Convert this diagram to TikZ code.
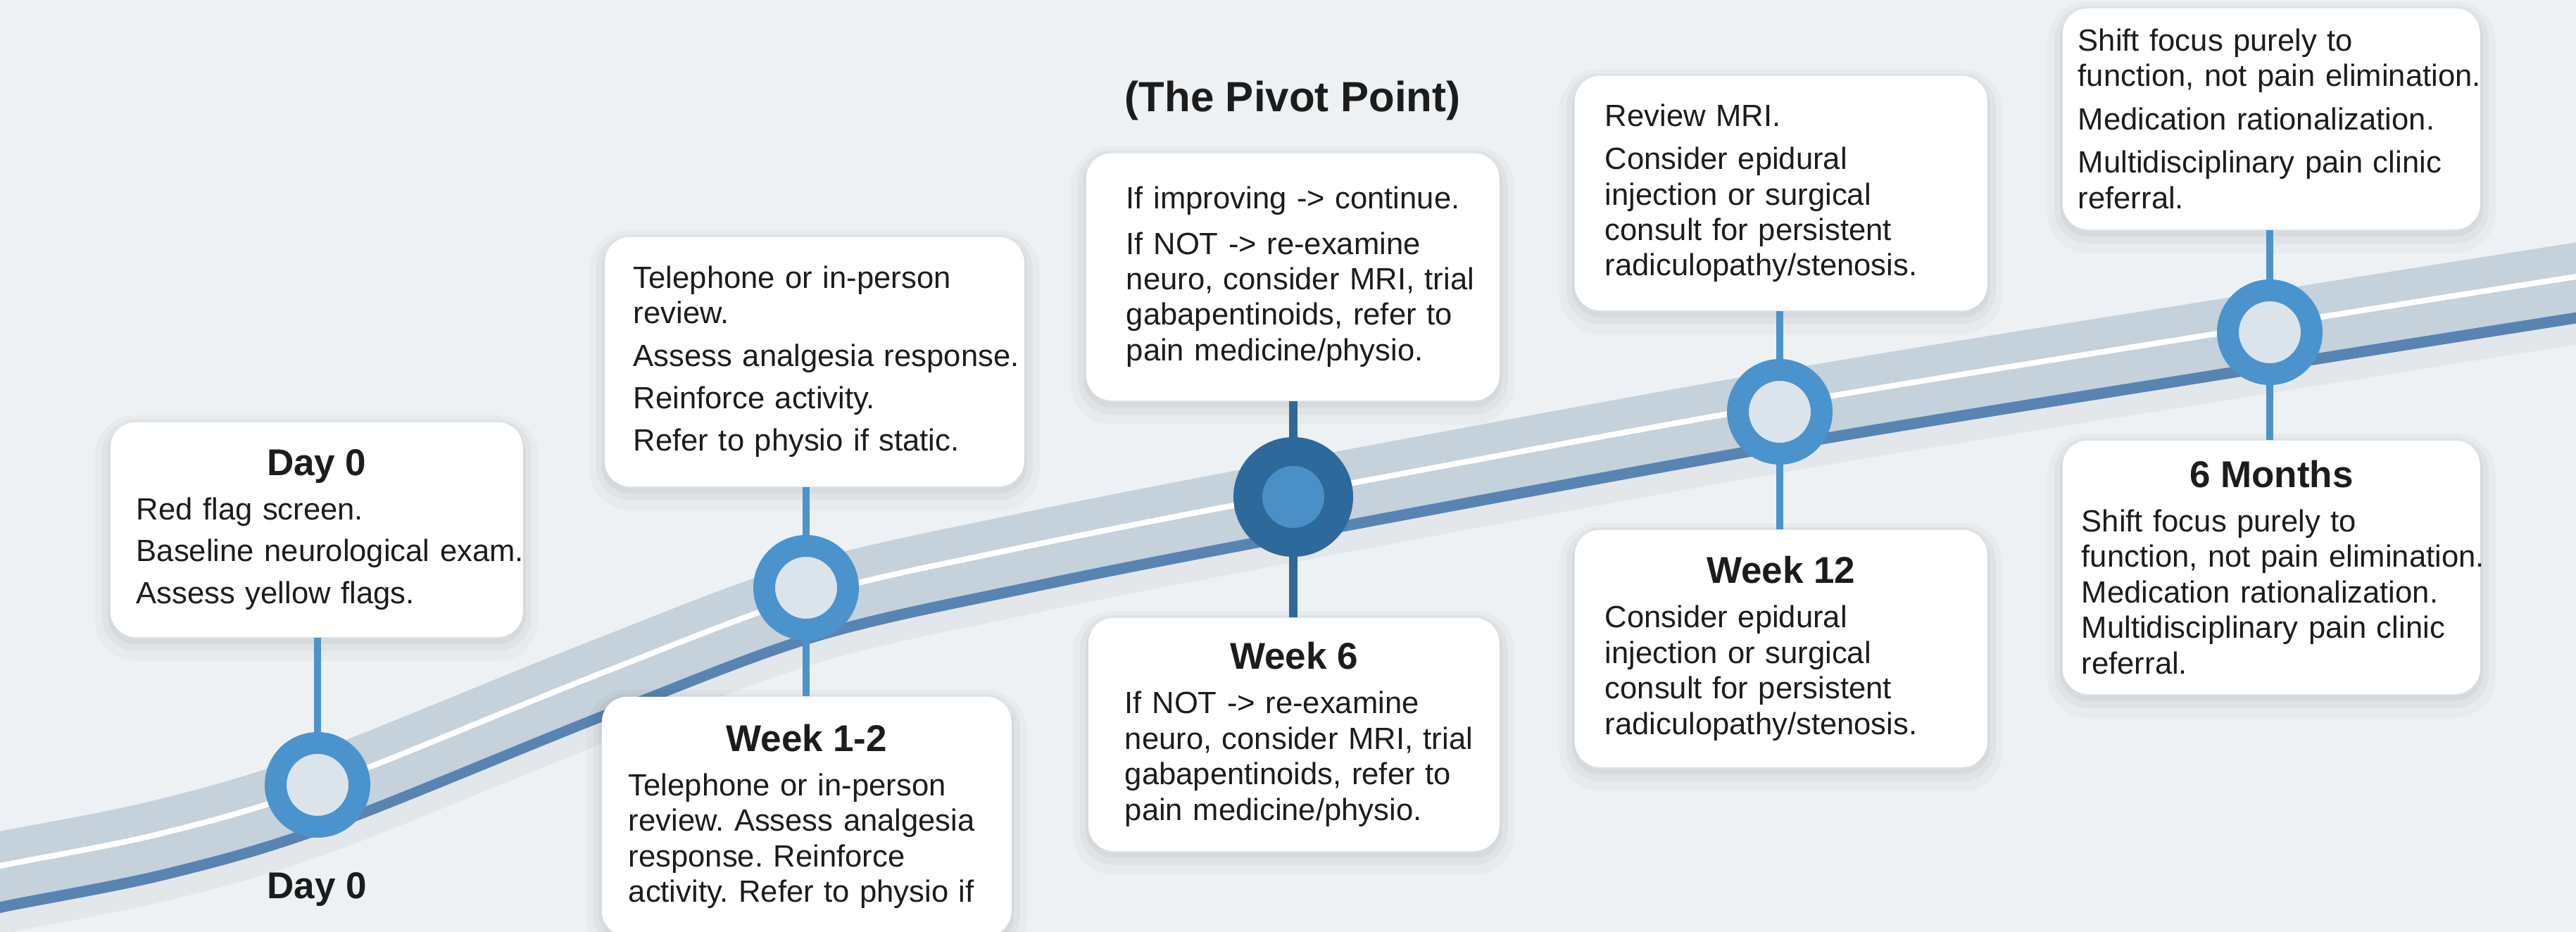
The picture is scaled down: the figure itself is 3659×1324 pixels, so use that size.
\documentclass[tikz,border=0pt]{standalone}
\usepackage{fontspec}
\setmainfont{Liberation Sans}
\usetikzlibrary{shadows}
\definecolor{bg}{HTML}{EDF1F4}
\definecolor{band}{HTML}{C5D1DB}
\definecolor{darkline}{HTML}{5884B2}
\definecolor{ringc}{HTML}{4B93CD}
\definecolor{hole}{HTML}{DCE4EB}
\definecolor{pivotdark}{HTML}{2D699B}
\definecolor{pivotlight}{HTML}{4A8FC6}
\definecolor{txt}{HTML}{1C1C1C}
\frenchspacing
\newcommand\cardtitle[1]{\makebox[\linewidth][c]{\fontsize{13.25}{15}\selectfont\bfseries #1}}
\tikzset{
  card/.style={rounded corners=9pt, fill=white, inner ysep=0pt, align=left,
    anchor=north west, text=txt, font=\fontsize{10.9}{12.6}\selectfont\frenchspacing,
    general shadow={draw=black, draw opacity=0.025, line width=11pt, shadow yshift=-3pt},
    general shadow={draw=black, draw opacity=0.03, line width=6pt, shadow yshift=-2pt},
    general shadow={draw=black, draw opacity=0.04, line width=2pt, shadow yshift=-1.5pt}},
  ringnode/.style={circle, draw=ringc, line width=7.75pt, fill=hole, minimum size=29.75pt, inner sep=0pt},
  conn/.style={draw=ringc, line width=2.5pt},
  pconn/.style={draw=pivotdark, line width=3pt},
  heading/.style={font=\fontsize{13.25}{15}\selectfont\bfseries, text=txt, inner sep=0pt},
}
\begin{document}
\begin{tikzpicture}[x=0.25pt,y=-0.25pt]
\useasboundingbox (0,0) rectangle (3659,1324);
\clip (0,0) rectangle (3659,1324);
\fill[bg] (0,0) rectangle (3659,1324);

% track
\draw[black, draw opacity=0.04, line width=30pt, transform canvas={yshift=-9pt}] plot[smooth, tension=0.55] coordinates {(-60,1245) (0,1230) (225,1185) (451,1118) (850,958) (1145,848) (1450,778) (1837,702) (2528,575) (3224,462) (3659,393) (3760,378)};
\draw[darkline, line width=24pt, transform canvas={yshift=-4.5pt}] plot[smooth, tension=0.55] coordinates {(-60,1245) (0,1230) (225,1185) (451,1118) (850,958) (1145,848) (1450,778) (1837,702) (2528,575) (3224,462) (3659,393) (3760,378)};
\draw[band, line width=24.5pt, transform canvas={yshift=-0.25pt}] plot[smooth, tension=0.55] coordinates {(-60,1245) (0,1230) (225,1185) (451,1118) (850,958) (1145,848) (1450,778) (1837,702) (2528,575) (3224,462) (3659,393) (3760,378)};
\draw[white, line width=2pt] plot[smooth, tension=0.55] coordinates {(-60,1245) (0,1230) (225,1185) (451,1118) (850,958) (1145,848) (1450,778) (1837,702) (2528,575) (3224,462) (3659,393) (3760,378)};

% milestone positions
\coordinate (p0) at (451,1115);
\coordinate (p1) at (1145,835);
\coordinate (p2) at (1837,706);
\coordinate (p3) at (2528,585);
\coordinate (p4) at (3224,472);

% cards
\node[card, text width=128pt, inner xsep=9.25pt, minimum height=76.25pt] (d0top) at (156,599)
 {\cardtitle{Day 0}\\[3.2pt]\mbox{Red flag screen.}\\[2.3pt]\mbox{Baseline neurological exam.}\\[2.3pt]\mbox{Assess yellow flags.}};

\node[card, text width=128.5pt, inner xsep=10.25pt, minimum height=88.5pt] (w1top) at (858,336)
 {\mbox{Telephone or in-person}\\\mbox{review.}\\[2.5pt]\mbox{Assess analgesia response.}\\[2.5pt]\mbox{Reinforce activity.}\\[2.5pt]\mbox{Refer to physio if static.}};

\node[card, text width=126.5pt, inner xsep=9.5pt, minimum height=85pt] (w1bot) at (854,989)
 {\cardtitle{Week 1-2}\\[3.2pt]\mbox{Telephone or in-person}\\\mbox{review. Assess analgesia}\\\mbox{response. Reinforce}\\\mbox{activity. Refer to physio if}};

\node[card, text width=118.25pt, inner xsep=14.25pt, minimum height=87.75pt] (pvtop) at (1542,217)
 {\mbox{If improving -> continue.}\\[3.5pt]\mbox{If NOT -> re-examine}\\\mbox{neuro, consider MRI, trial}\\\mbox{gabapentinoids, refer to}\\\mbox{pain medicine/physio.}};

\node[card, text width=120pt, inner xsep=13pt, minimum height=82.75pt] (w6bot) at (1545,877)
 {\cardtitle{Week 6}\\[3.2pt]\mbox{If NOT -> re-examine}\\\mbox{neuro, consider MRI, trial}\\\mbox{gabapentinoids, refer to}\\\mbox{pain medicine/physio.}};

\node[card, text width=125pt, inner xsep=10.75pt, minimum height=83.25pt] (k12top) at (2236,107)
 {\mbox{Review MRI.}\\[2.8pt]\mbox{Consider epidural}\\\mbox{injection or surgical}\\\mbox{consult for persistent}\\\mbox{radiculopathy/stenosis.}};

\node[card, text width=125pt, inner xsep=10.75pt, minimum height=84.25pt] (k12bot) at (2236,752)
 {\cardtitle{Week 12}\\[3.2pt]\mbox{Consider epidural}\\\mbox{injection or surgical}\\\mbox{consult for persistent}\\\mbox{radiculopathy/stenosis.}};

\node[card, text width=137.25pt, inner xsep=5.5pt, minimum height=78.5pt] (m6top) at (2929,11)
 {\mbox{Shift focus purely to}\\\mbox{function, not pain elimination.}\\[2.8pt]\mbox{Medication rationalization.}\\[2.8pt]\mbox{Multidisciplinary pain clinic}\\\mbox{referral.}};

\node[card, text width=134.75pt, inner xsep=6.75pt, minimum height=90pt] (m6bot) at (2929,625)
 {\cardtitle{6 Months}\\[3.2pt]\mbox{Shift focus purely to}\\\mbox{function, not pain elimination.}\\\mbox{Medication rationalization.}\\\mbox{Multidisciplinary pain clinic}\\\mbox{referral.}};

% connectors
\draw[conn] (d0top.south -| p0) -- (p0);
\draw[conn] (w1top.south -| p1) -- (p1);
\draw[conn] (p1) -- (w1bot.north -| p1);
\draw[pconn] (pvtop.south -| p2) -- (p2);
\draw[pconn] (p2) -- (w6bot.north -| p2);
\draw[conn] (k12top.south -| p3) -- (p3);
\draw[conn] (p3) -- (k12bot.north -| p3);
\draw[conn] (m6top.south -| p4) -- (p4);
\draw[conn] (p4) -- (m6bot.north -| p4);

% circles
\node[ringnode] (c0) at (p0) {};
\node[ringnode] (c1) at (p1) {};
\node[circle, fill=pivotdark, minimum size=42.5pt, inner sep=0pt] (c2) at (p2) {};
\node[circle, fill=pivotlight, minimum size=22pt, inner sep=0pt] (c2in) at (p2) {};
\node[ringnode] (c3) at (p3) {};
\node[ringnode] (c4) at (p4) {};

% labels
\node[heading, font=\fontsize{15}{17}\selectfont\bfseries] (pivot) at (1836,143) {(The Pivot Point)};
\node[heading] (d0lab) at (450,1263) {Day 0};
\end{tikzpicture}
\end{document}
